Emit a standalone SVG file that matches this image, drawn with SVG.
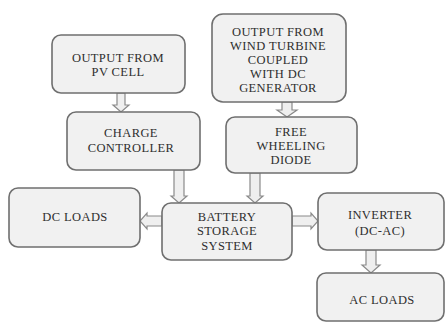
<svg xmlns="http://www.w3.org/2000/svg" width="446" height="323" viewBox="0 0 446 323">
<style>
.box{fill:#f1f1f1;stroke:#6f6f6f;stroke-width:1.6}
.t{font-family:"Liberation Serif","Times New Roman",serif;font-size:12.5px;letter-spacing:0.4px;fill:#2e2e2e;text-anchor:middle}
.ar{fill:#efefef;stroke:#8a8a8a;stroke-width:1.2}
</style>
<rect width="446" height="323" fill="#ffffff"/>
<g id="connectors">
<path class="ar" d="M117 93 V105 H113 L121 112 L129 105 H125 V93 Z"/>
<path class="ar" d="M174 170 V196 H171 L179 203 L187 196 H184 V170 Z"/>
<path class="ar" d="M282 102 V110 H277 L287 117 L297 110 H292 V102 Z"/>
<path class="ar" d="M250 173 V196 H247 L255 203 L263 196 H260 V173 Z"/>
<path class="ar" d="M162 216 H147 V213 L140 221 L147 229 V226 H162 Z"/>
<path class="ar" d="M292 216 H311 V213 L318 221 L311 229 V226 H292 Z"/>
<path class="ar" d="M366 250 V265 H362 L371 273 L380 265 H376 V250 Z"/>
</g>
<g id="pv"><rect class="box" x="52" y="35" width="133" height="58" rx="9"/>
<text class="t" x="118" y="62">OUTPUT FROM</text><text class="t" x="118" y="76">PV CELL</text></g>
<g id="charge"><rect class="box" x="67" y="112" width="133" height="58" rx="9"/>
<text class="t" x="131" y="137">CHARGE</text><text class="t" x="131" y="152">CONTROLLER</text></g>
<g id="wind"><rect class="box" x="212" y="14" width="134" height="88" rx="11"/>
<text class="t" x="278" y="36">OUTPUT FROM</text><text class="t" x="278" y="50">WIND TURBINE</text><text class="t" x="278" y="64">COUPLED</text><text class="t" x="278" y="78">WITH DC</text><text class="t" x="278" y="92">GENERATOR</text></g>
<g id="diode"><rect class="box" x="226" y="117" width="131" height="56" rx="9"/>
<text class="t" x="291" y="136">FREE</text><text class="t" x="291" y="150">WHEELING</text><text class="t" x="291" y="164">DIODE</text></g>
<g id="dcloads"><rect class="box" x="9" y="188" width="131" height="59" rx="9"/>
<text class="t" x="75" y="221">DC LOADS</text></g>
<g id="battery"><rect class="box" x="162" y="203" width="130" height="57" rx="9"/>
<text class="t" x="227" y="221">BATTERY</text><text class="t" x="227" y="235">STORAGE</text><text class="t" x="227" y="250">SYSTEM</text></g>
<g id="inverter"><rect class="box" x="318" y="193" width="126" height="57" rx="9"/>
<text class="t" x="380" y="219">INVERTER</text><text class="t" x="380" y="235">(DC-AC)</text></g>
<g id="acloads"><rect class="box" x="317" y="273" width="127" height="48" rx="9"/>
<text class="t" x="382" y="304">AC LOADS</text></g>
</svg>
